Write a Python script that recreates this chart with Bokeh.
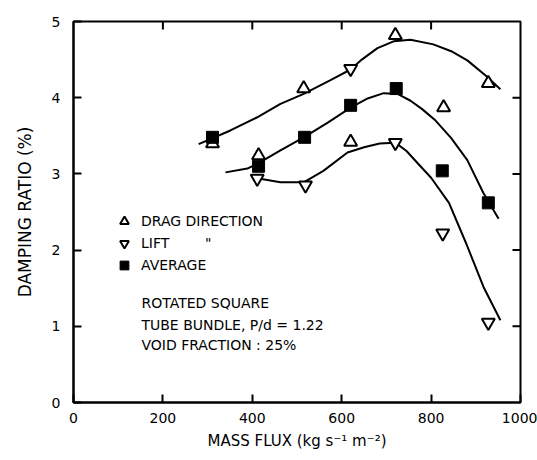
from bokeh.plotting import figure
from bokeh.models import (Range1d, LinearAxis, FixedTicker, Label, Legend, LegendItem)
from bokeh.embed import file_html
from bokeh.resources import INLINE

# ---- data ----
drag_x = [311, 414, 515, 620, 720, 828, 928]
drag_y = [3.40, 3.24, 4.12, 3.42, 4.82, 3.87, 4.19]

lift_x = [411, 519, 620, 720, 826, 928]
lift_y = [2.94, 2.85, 4.38, 3.41, 2.22, 1.05]

avg_x = [311, 414, 517, 620, 722, 825, 928]
avg_y = [3.48, 3.10, 3.48, 3.90, 4.12, 3.04, 2.62]

# hand-drawn fitted curves
drag_curve_x = [280, 351, 410, 463, 515, 575, 620, 645, 680, 716, 754, 805, 845, 881, 922, 955]
drag_curve_y = [3.39, 3.57, 3.74, 3.92, 4.05, 4.23, 4.37, 4.50, 4.65, 4.74, 4.76, 4.70, 4.61, 4.49, 4.29, 4.11]

avg_curve_x = [340, 389, 414, 463, 515, 568, 620, 658, 694, 725, 754, 780, 810, 845, 881, 917, 951]
avg_curve_y = [3.02, 3.07, 3.14, 3.31, 3.48, 3.67, 3.87, 3.99, 4.06, 4.05, 3.96, 3.85, 3.70, 3.47, 3.18, 2.75, 2.41]

lift_curve_x = [414, 463, 515, 559, 613, 650, 685, 720, 745, 770, 800, 840, 879, 917, 955]
lift_curve_y = [2.94, 2.89, 2.89, 3.04, 3.28, 3.35, 3.40, 3.41, 3.30, 3.14, 2.95, 2.62, 2.08, 1.52, 1.08]

x_ticks = [0, 200, 400, 600, 800, 1000]
y_ticks = [0, 1, 2, 3, 4, 5]

legend_labels = ["DRAG DIRECTION", "LIFT" + "\u00a0" * 8 + '"', "AVERAGE"]
note_lines = ["ROTATED SQUARE", "TUBE BUNDLE, P/d = 1.22", "VOID FRACTION : 25%"]
x_title = "MASS FLUX (kg s\u207b\u00b9 m\u207b\u00b2)"
y_title = "DAMPING RATIO (%)"

FONT = "DejaVu Sans"
X0, X1, Y0, Y1 = 0, 1000, 0, 5
FRAME_W, FRAME_H = 447, 381
TICK_PX = 8

p = figure(width=537, height=460, output_backend="svg", toolbar_location=None,
           x_range=Range1d(X0, X1), y_range=Range1d(Y0, Y1),
           x_axis_location=None, y_axis_location=None,
           min_border_left=73, min_border_right=17, min_border_top=21, min_border_bottom=58)
p.grid.visible = False
p.outline_line_color = "black"
p.outline_line_width = 2
p.background_fill_color = "white"
p.border_fill_color = "white"

def style_axis(ax, ticks, standoff):
    ax.ticker = FixedTicker(ticks=ticks)
    ax.major_tick_in = TICK_PX
    ax.major_tick_out = 0
    ax.minor_tick_line_color = None
    ax.axis_line_width = 2
    ax.axis_line_color = "black"
    ax.major_tick_line_width = 2
    ax.major_tick_line_color = "black"
    ax.major_label_text_font = FONT
    ax.major_label_text_font_size = "14px"
    ax.major_label_text_color = "black"
    ax.major_label_standoff = standoff
    ax.axis_label_text_font = FONT
    ax.axis_label_text_font_style = "normal"
    ax.axis_label_text_color = "black"

bottom = LinearAxis(axis_label=x_title)
style_axis(bottom, x_ticks, 10)
bottom.axis_label_text_font_size = "15px"
bottom.axis_label_standoff = 6
p.add_layout(bottom, "below")

left = LinearAxis(axis_label=y_title)
style_axis(left, y_ticks, 13)
left.axis_label_text_font_size = "17px"
left.axis_label_standoff = 14
p.add_layout(left, "left")

# inward ticks on top and right sides (from the tick lists)
top_t = x_ticks[1:-1]
p.segment(x0=top_t, y0=[Y1] * len(top_t), x1=top_t,
          y1=[Y1 - TICK_PX * (Y1 - Y0) / FRAME_H] * len(top_t), line_color="black", line_width=2)
right_t = y_ticks[1:-1]
p.segment(x0=[X1] * len(right_t), y0=right_t,
          x1=[X1 - TICK_PX * (X1 - X0) / FRAME_W] * len(right_t), y1=right_t,
          line_color="black", line_width=2)

# curves
p.line(drag_curve_x, drag_curve_y, line_color="black", line_width=2)
p.line(avg_curve_x, avg_curve_y, line_color="black", line_width=2)
p.line(lift_curve_x, lift_curve_y, line_color="black", line_width=2)

# markers
r_drag = p.scatter(drag_x, drag_y, marker="triangle", size=13, fill_color="white",
                   line_color="black", line_width=2)
r_lift = p.scatter(lift_x, lift_y, marker="inverted_triangle", size=13, fill_color="white",
                   line_color="black", line_width=2)
r_avg = p.scatter(avg_x, avg_y, marker="square", size=12, fill_color="black",
                  line_color="black", line_width=1)

legend = Legend(items=[LegendItem(label=legend_labels[0], renderers=[r_drag]),
                       LegendItem(label=legend_labels[1], renderers=[r_lift]),
                       LegendItem(label=legend_labels[2], renderers=[r_avg])],
                location=(40, 126))
legend.background_fill_alpha = 0
legend.border_line_alpha = 0
legend.padding = 0
legend.margin = 0
legend.spacing = 0
legend.glyph_width = 22
legend.glyph_height = 22
legend.label_height = 22
legend.label_standoff = 6
legend.label_text_font = FONT
legend.label_text_font_size = "14px"
legend.label_text_color = "black"
p.add_layout(legend, "center")

for txt, yy in zip(note_lines, [1.30, 1.02, 0.75]):
    p.add_layout(Label(x=152, y=yy, text=txt, text_font=FONT, text_font_size="14px",
                       text_color="black", text_baseline="middle", text_align="left"))

open("out.html", "w").write(file_html(p, INLINE))
